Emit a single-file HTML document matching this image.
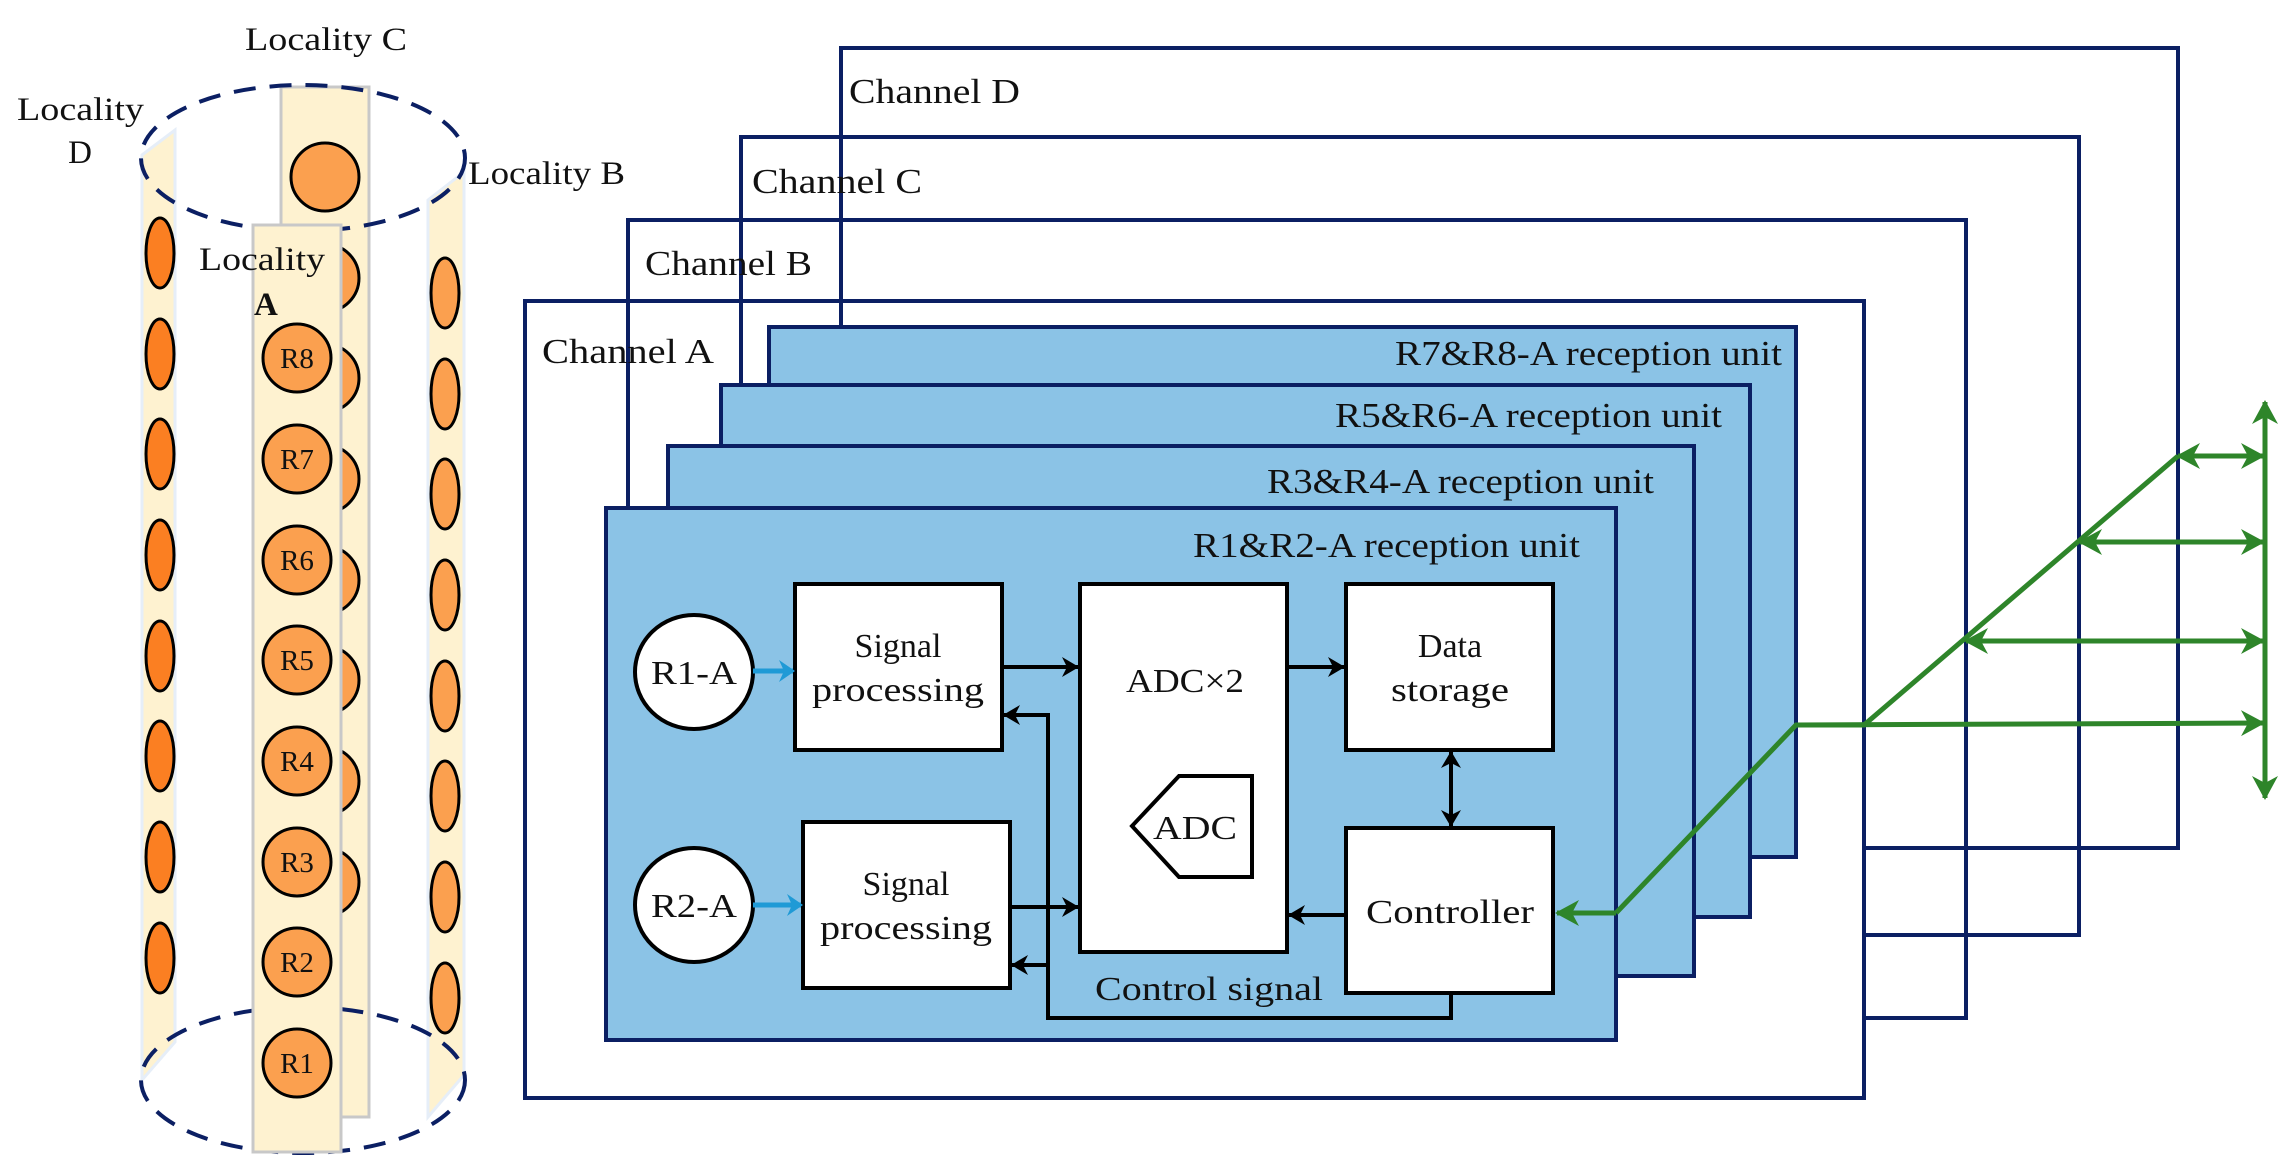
<!DOCTYPE html>
<html><head><meta charset="utf-8"><style>
html,body{margin:0;padding:0;background:#fff;}
svg{display:block;}
text{font-family:"Liberation Serif",serif;fill:#111;}
</style></head><body>
<svg width="2289" height="1176" viewBox="0 0 2289 1176" xmlns="http://www.w3.org/2000/svg">
<defs>
<marker id="ag" markerWidth="30" markerHeight="30" refX="0" refY="0" orient="auto-start-reverse" markerUnits="userSpaceOnUse" style="overflow:visible">
<path d="M2,0 L-22,-13 L-15,0 L-22,13 z" fill="#2e852a"/>
</marker>
<marker id="ab" markerWidth="30" markerHeight="30" refX="0" refY="0" orient="auto" markerUnits="userSpaceOnUse" style="overflow:visible">
<path d="M2,0 L-14,-11 L-9,0 L-14,11 z" fill="#1f9ad6"/>
</marker>
<marker id="ak2" markerWidth="30" markerHeight="30" refX="0" refY="0" orient="auto-start-reverse" markerUnits="userSpaceOnUse" style="overflow:visible">
<path d="M1,0 L-16,-10 L-11,0 L-16,10 z" fill="#000"/>
</marker>
</defs>

<!-- ===== Cylinder ===== -->
<rect x="281" y="87" width="88" height="1030" fill="#fef2d0" stroke="#c8c8c8" stroke-width="3"/>
<g fill="#fba04f" stroke="#000" stroke-width="3">
<circle cx="325" cy="177" r="34"/>
<circle cx="325" cy="278" r="34"/><circle cx="325" cy="378" r="34"/><circle cx="325" cy="479" r="34"/>
<circle cx="325" cy="580" r="34"/><circle cx="325" cy="680" r="34"/><circle cx="325" cy="781" r="34"/>
<circle cx="325" cy="882" r="34"/>
</g>
<polygon points="142,155 175,130 175,1042 142,1080" fill="#fef2d0" stroke="#e6eef8" stroke-width="3"/>
<g fill="#fb7f22" stroke="#000" stroke-width="3">
<ellipse cx="160" cy="253" rx="14" ry="35"/><ellipse cx="160" cy="354" rx="14" ry="35"/>
<ellipse cx="160" cy="454" rx="14" ry="35"/><ellipse cx="160" cy="555" rx="14" ry="35"/>
<ellipse cx="160" cy="656" rx="14" ry="35"/><ellipse cx="160" cy="756" rx="14" ry="35"/>
<ellipse cx="160" cy="857" rx="14" ry="35"/><ellipse cx="160" cy="958" rx="14" ry="35"/>
</g>
<polygon points="428,200 464,172 464,1075 428,1117" fill="#fef2d0" stroke="#e6eef8" stroke-width="3"/>
<g fill="#fba04f" stroke="#000" stroke-width="3">
<ellipse cx="445" cy="293" rx="14" ry="35"/><ellipse cx="445" cy="394" rx="14" ry="35"/>
<ellipse cx="445" cy="494" rx="14" ry="35"/><ellipse cx="445" cy="595" rx="14" ry="35"/>
<ellipse cx="445" cy="696" rx="14" ry="35"/><ellipse cx="445" cy="796" rx="14" ry="35"/>
<ellipse cx="445" cy="897" rx="14" ry="35"/><ellipse cx="445" cy="998" rx="14" ry="35"/>
</g>
<ellipse cx="303" cy="158" rx="162" ry="73" fill="none" stroke="#0b1f63" stroke-width="4" stroke-dasharray="22,14"/>
<ellipse cx="303" cy="1080" rx="162" ry="73" fill="none" stroke="#0b1f63" stroke-width="4" stroke-dasharray="22,14"/>
<rect x="253" y="225" width="88" height="927" fill="#fef2d0" stroke="#c8c8c8" stroke-width="3"/>
<g fill="#fba04f" stroke="#000" stroke-width="3">
<circle cx="297" cy="358" r="34"/><circle cx="297" cy="459" r="34"/><circle cx="297" cy="560" r="34"/>
<circle cx="297" cy="660" r="34"/><circle cx="297" cy="761" r="34"/><circle cx="297" cy="862" r="34"/>
<circle cx="297" cy="962" r="34"/><circle cx="297" cy="1063" r="34"/>
</g>
<g font-size="29" text-anchor="middle">
<text x="297" y="368">R8</text><text x="297" y="469">R7</text><text x="297" y="570">R6</text>
<text x="297" y="670">R5</text><text x="297" y="771">R4</text><text x="297" y="872">R3</text>
<text x="297" y="972">R2</text><text x="297" y="1073">R1</text>
</g>
<g font-size="33">
<text x="245" y="50" textLength="162" lengthAdjust="spacingAndGlyphs">Locality C</text>
<text x="17" y="120" textLength="127" lengthAdjust="spacingAndGlyphs">Locality</text>
<text x="80" y="163" text-anchor="middle">D</text>
<text x="468" y="184" textLength="157" lengthAdjust="spacingAndGlyphs">Locality B</text>
<text x="199" y="270" textLength="126" lengthAdjust="spacingAndGlyphs">Locality</text>
<text x="254" y="315" font-weight="bold">A</text>
</g>

<!-- ===== Channels ===== -->
<g fill="none" stroke="#0b1f63" stroke-width="4">
<rect x="841" y="48" width="1337" height="800"/>
<rect x="741" y="137" width="1338" height="798"/>
<rect x="628" y="220" width="1338" height="798"/>
<rect x="525" y="301" width="1339" height="797" fill="#fff"/>
</g>
<g stroke="#0b1f63" stroke-width="4">
<line x1="628" y1="301" x2="628" y2="508"/>
<line x1="741" y1="220" x2="741" y2="385"/>
<line x1="841" y1="137" x2="841" y2="327"/>
</g>
<g font-size="35">
<text x="849" y="103" textLength="171" lengthAdjust="spacingAndGlyphs">Channel D</text>
<text x="752" y="193" textLength="170" lengthAdjust="spacingAndGlyphs">Channel C</text>
<text x="645" y="275" textLength="167" lengthAdjust="spacingAndGlyphs">Channel B</text>
<text x="542" y="363" textLength="172" lengthAdjust="spacingAndGlyphs">Channel A</text>
</g>

<g fill="#8bc3e6" stroke="#0b1f63" stroke-width="4">
<rect x="769" y="327" width="1027" height="530"/>
<rect x="721" y="385" width="1029" height="532"/>
<rect x="668" y="446" width="1026" height="530"/>
<rect x="606" y="508" width="1010" height="532"/>
</g>
<g font-size="35" text-anchor="end">
<text x="1782" y="365" textLength="387" lengthAdjust="spacingAndGlyphs">R7&amp;R8-A reception unit</text>
<text x="1722" y="427" textLength="387" lengthAdjust="spacingAndGlyphs">R5&amp;R6-A reception unit</text>
<text x="1654" y="493" textLength="387" lengthAdjust="spacingAndGlyphs">R3&amp;R4-A reception unit</text>
<text x="1580" y="557" textLength="387" lengthAdjust="spacingAndGlyphs">R1&amp;R2-A reception unit</text>
</g>

<!-- inner blocks -->
<g fill="#fff" stroke="#000" stroke-width="4">
<ellipse cx="694" cy="672" rx="59" ry="57"/>
<ellipse cx="694" cy="905" rx="59" ry="57"/>
<rect x="795" y="584" width="207" height="166"/>
<rect x="803" y="822" width="207" height="166"/>
<rect x="1080" y="584" width="207" height="368"/>
<rect x="1346" y="584" width="207" height="166"/>
<rect x="1346" y="828" width="207" height="165"/>
<polygon points="1179,776 1252,776 1252,877 1179,877 1132,826"/>
</g>
<g font-size="34" text-anchor="middle">
<text x="694" y="684" textLength="86" lengthAdjust="spacingAndGlyphs">R1-A</text>
<text x="694" y="917" textLength="86" lengthAdjust="spacingAndGlyphs">R2-A</text>
<text x="898" y="657">Signal</text>
<text x="898" y="701" textLength="172" lengthAdjust="spacingAndGlyphs">processing</text>
<text x="906" y="895">Signal</text>
<text x="906" y="939" textLength="172" lengthAdjust="spacingAndGlyphs">processing</text>
<text x="1185" y="692" textLength="118" lengthAdjust="spacingAndGlyphs">ADC×2</text>
<text x="1195" y="839" textLength="84" lengthAdjust="spacingAndGlyphs">ADC</text>
<text x="1450" y="657">Data</text>
<text x="1450" y="701" textLength="118" lengthAdjust="spacingAndGlyphs">storage</text>
<text x="1450" y="923" textLength="168" lengthAdjust="spacingAndGlyphs">Controller</text>
<text x="1209" y="1000" textLength="228" lengthAdjust="spacingAndGlyphs">Control signal</text>
</g>

<g stroke="#000" stroke-width="4" fill="none">
<line x1="1002" y1="667" x2="1078" y2="667" marker-end="url(#ak2)"/>
<line x1="1010" y1="907" x2="1078" y2="907" marker-end="url(#ak2)"/>
<line x1="1287" y1="667" x2="1344" y2="667" marker-end="url(#ak2)"/>
<line x1="1346" y1="915" x2="1289" y2="915" marker-end="url(#ak2)"/>
<line x1="1451" y1="752" x2="1451" y2="826" marker-start="url(#ak2)" marker-end="url(#ak2)"/>
<polyline points="1451,993 1451,1018 1048,1018 1048,715 1004,715" marker-end="url(#ak2)"/>
<line x1="1048" y1="965" x2="1012" y2="965" marker-end="url(#ak2)"/>
</g>
<g stroke="#1f9ad6" stroke-width="5">
<line x1="753" y1="671" x2="793" y2="671" marker-end="url(#ab)"/>
<line x1="753" y1="905" x2="801" y2="905" marker-end="url(#ab)"/>
</g>

<g stroke="#2e852a" stroke-width="5" fill="none">
<polyline points="1616,913 1557,913" marker-end="url(#ag)"/>
<polyline points="1616,913 1796,725 1864,725 2178,456"/>
<line x1="1796" y1="725" x2="2263" y2="723" marker-end="url(#ag)"/>
<line x1="1966" y1="641" x2="2263" y2="641" marker-start="url(#ag)" marker-end="url(#ag)"/>
<line x1="2080" y1="542" x2="2263" y2="542" marker-start="url(#ag)" marker-end="url(#ag)"/>
<line x1="2178" y1="456" x2="2263" y2="456" marker-start="url(#ag)" marker-end="url(#ag)"/>
<line x1="2265" y1="402" x2="2265" y2="798" marker-start="url(#ag)" marker-end="url(#ag)"/>
</g>
</svg>
</body></html>
